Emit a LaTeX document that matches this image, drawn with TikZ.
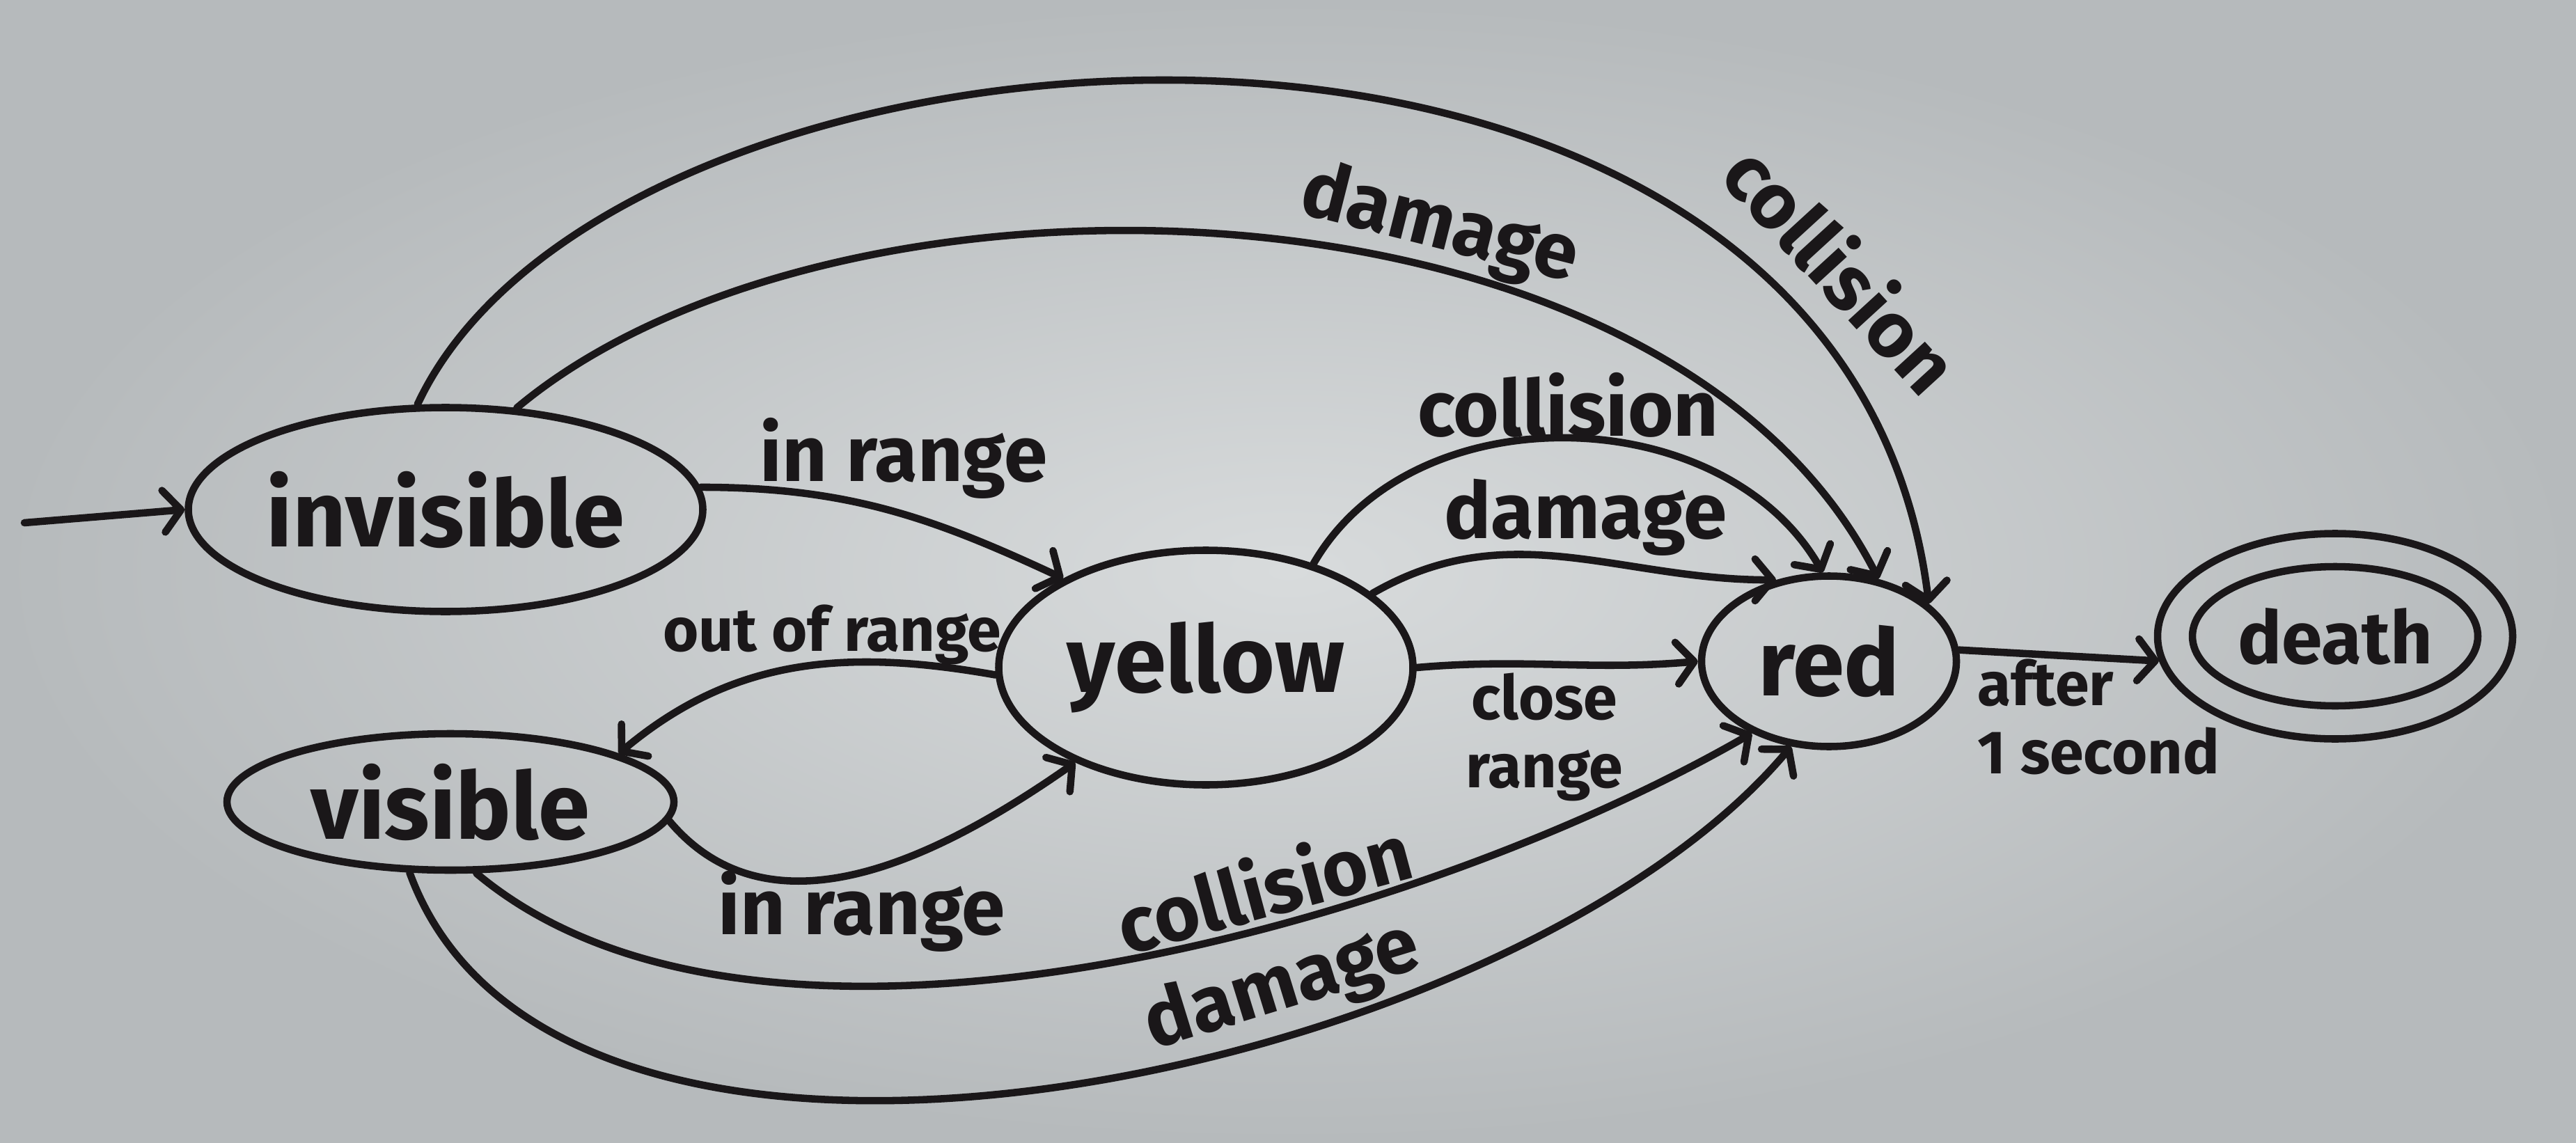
\documentclass[tikz,border=0pt]{standalone}
\usepackage{fontspec}
\setmainfont{Fira Sans}
\usetikzlibrary{shapes.geometric,arrows.meta}

\definecolor{boardin}{RGB}{216,219,220}
\definecolor{boardout}{RGB}{182,186,188}
\definecolor{ink}{RGB}{26,23,25}

\tikzset{
  state/.style={draw, ellipse, line width=3pt, inner sep=0pt, text=ink,
    font=\fontsize{38}{42}\selectfont\bfseries},
  lbl/.style={font=\fontsize{32}{36}\selectfont\bfseries, text=ink, inner sep=2pt},
  lblsmall/.style={font=\fontsize{25}{28}\selectfont\bfseries, text=ink, inner sep=2pt}
}

\begin{document}
\begin{tikzpicture}[line width=3pt, color=ink, line cap=round,
    >={Straight Barb[length=2.5mm,width=6mm,round]}]
    \shade[inner color=boardin, outer color=boardout] (0,0) rectangle (37,16.41);
    \useasboundingbox (0,0) rectangle (37,16.41);

    % states
    \node[state, minimum width=7.39cm, minimum height=2.93cm] (invisible) at (6.40,9.09) {invisible};
    \node[state, minimum width=5.95cm, minimum height=3.37cm] (yellow) at (17.32,6.82) {yellow};
    \node[state, minimum width=6.42cm, minimum height=1.96cm] (visible) at (6.47,4.89) {visible};
    \node[state, minimum width=3.66cm, minimum height=2.45cm] (red) at (26.27,6.91) {red};
    \node[state, minimum width=4.1cm, minimum height=2.0cm, font=\fontsize{30}{34}\selectfont\bfseries] (death) at (33.54,7.27) {death};
    \node[state, minimum width=5.1cm, minimum height=2.95cm] (deathouter) at (death.center) {};

    % start arrow
    \coordinate (start) at (0.35,8.90);
    \draw[->] (start) -- (invisible.west);

    % invisible <-> yellow <-> visible
    \draw[->] (invisible.5) to[out=0,in=155] node[lbl, above=3pt, pos=0.55] (lab-inrange1) {in range} (yellow.148);
    \draw[->] (yellow.182) to[out=170,in=40] node[lblsmall, above=-4pt, pos=0.4] (lab-outofrange) {out of range} (visible.16);
    \draw[->] (visible.-5) to[out=-50,in=215] node[lbl, below=-4pt, pos=0.5] (lab-inrange2) {in range} (yellow.216);

    % yellow -> red
    \draw[->] (yellow.44) to[out=60,in=120] node[lbl, above=-3pt] (lab-coll1) {collision} (red.94);
    \draw[->] (yellow.24) to[out=30,in=180] node[lbl, above=-2pt, pos=0.55] (lab-dmg1) {damage} (red.123);
    \draw[->] (yellow.east) to[out=5,in=185] node[lblsmall, below, align=center, pos=0.45] (lab-close) {close\\range} (red.west);

    % invisible -> red
    \draw[->] (invisible.55) to[out=40,in=117,out looseness=0.77,in looseness=0.88]
        node[lbl, above=-2pt, sloped, pos=0.62] (lab-dmg2) {damage} (red.59);
    \draw[->] (invisible.105) to[out=65,in=97,out looseness=0.78,in looseness=1.19]
        node[lbl, above=9pt, sloped, pos=0.83] (lab-coll2) {collision} (red.30);

    % visible -> red
    \draw[->] (visible.-70) to[out=-40,in=210,looseness=0.75]
        node[lbl, above, sloped, pos=0.62] (lab-coll3) {collision} (red.223);
    \draw[->] (visible.-120) to[out=-70,in=230,looseness=0.8]
        node[lbl, above, sloped, pos=0.64] (lab-dmg3) {damage} (red.246);

    % red -> death
    \draw[->] (red.5) -- node[lblsmall, anchor=north west, align=left, pos=0.05] (lab-after) {after\\1 second} (deathouter.188);
\end{tikzpicture}
\end{document}
